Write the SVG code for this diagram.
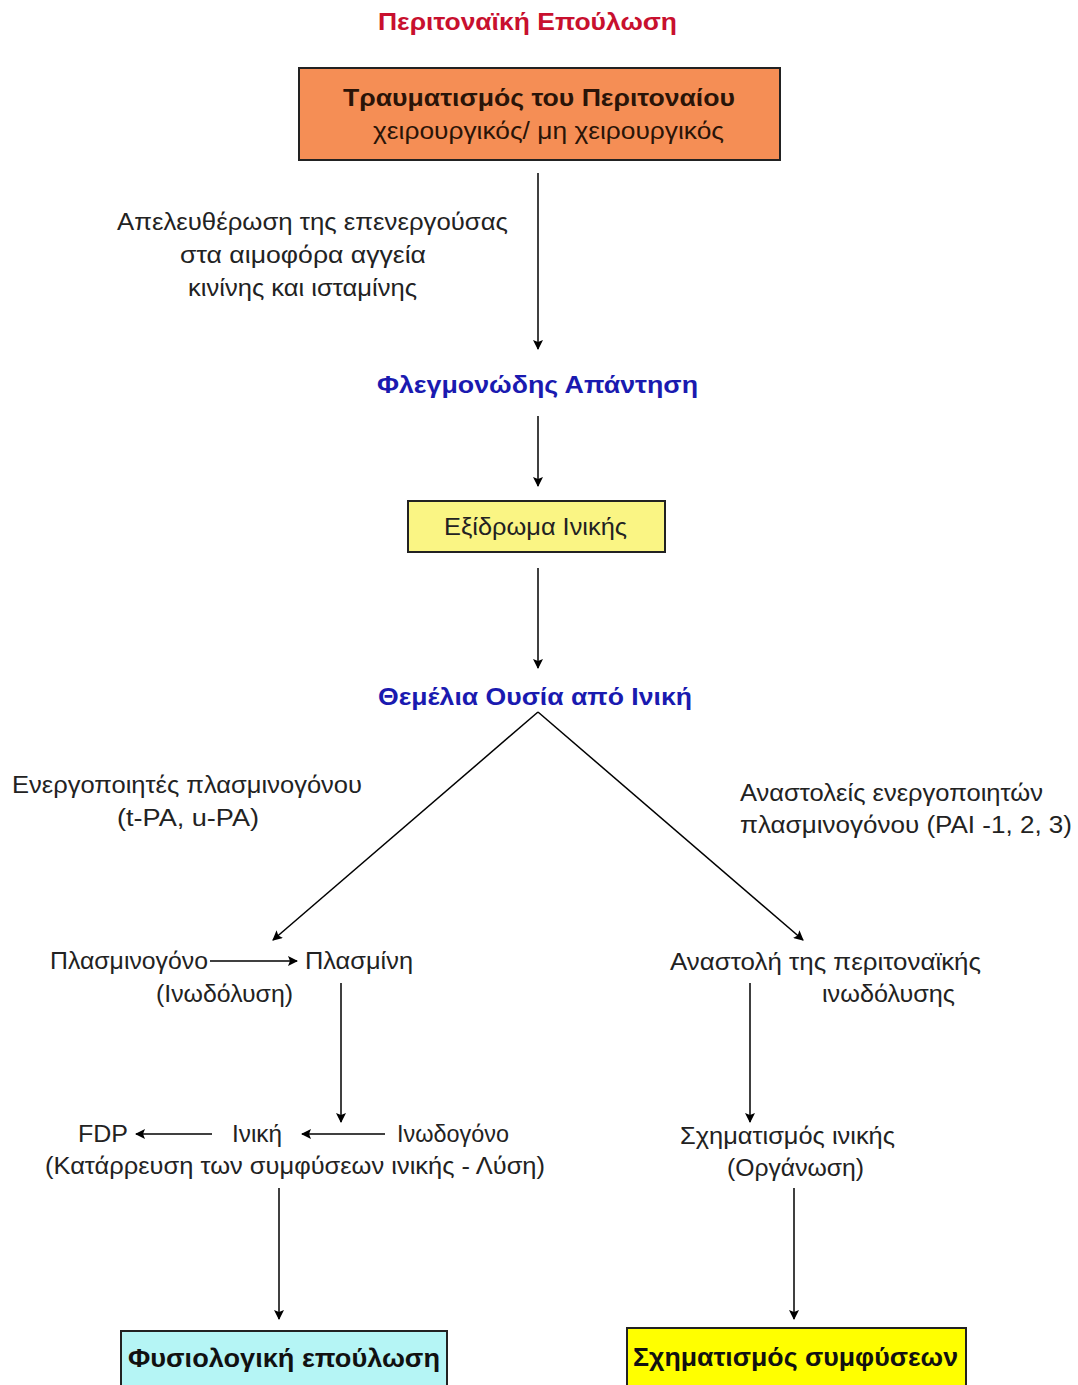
<svg xmlns="http://www.w3.org/2000/svg" width="1078" height="1385" viewBox="0 0 1078 1385">
<defs>
<marker id="ah" viewBox="0 0 10 10" refX="9" refY="5" markerWidth="10" markerHeight="10" markerUnits="userSpaceOnUse" orient="auto">
<path d="M0,0 L10,5 L0,10 L2,5 z" fill="#000"/>
</marker>
<style>
text{font-family:"Liberation Sans",Arial,sans-serif;fill:#222;}
.t{font-size:23px;}
.blue{fill:#1a1ab0;font-weight:bold;font-size:23px;}
.red{fill:#c8102e;font-weight:bold;font-size:23px;}
.b{font-weight:bold;}
.nb{font-weight:bold;font-size:26px;fill:#111;}
.ln{stroke:#000;stroke-width:1.5;fill:none;marker-end:url(#ah);}
.box{stroke:#222;stroke-width:2;}
</style>
</defs>
<rect width="1078" height="1385" fill="#fff"/>

<g id="title"><text class="red" x="378" y="30" textLength="299" lengthAdjust="spacingAndGlyphs">Περιτοναϊκή Επούλωση</text></g>

<g id="n-trauma">
<rect class="box" x="299" y="68" width="481" height="92" fill="#f58e55"/>
<text class="t b" x="343" y="106" style="fill:#2a1408" textLength="392" lengthAdjust="spacingAndGlyphs">Τραυματισμός του Περιτοναίου</text>
<text class="t" x="373" y="139" style="fill:#2a1408" textLength="351" lengthAdjust="spacingAndGlyphs">χειρουργικός/ μη χειρουργικός</text>
</g>

<g id="l-release">
<text class="t" x="117" y="230" textLength="391" lengthAdjust="spacingAndGlyphs">Απελευθέρωση της επενεργούσας</text>
<text class="t" x="180" y="263" textLength="246" lengthAdjust="spacingAndGlyphs">στα αιμοφόρα αγγεία</text>
<text class="t" x="188" y="296" textLength="229" lengthAdjust="spacingAndGlyphs">κινίνης και ισταμίνης</text>
</g>

<g id="n-inflam"><text class="blue" x="377" y="393" textLength="321" lengthAdjust="spacingAndGlyphs">Φλεγμονώδης Απάντηση</text></g>

<g id="n-exudate">
<rect class="box" x="408" y="501" width="257" height="51" fill="#faf584"/>
<text class="t" x="444" y="535" textLength="183" lengthAdjust="spacingAndGlyphs">Εξίδρωμα Ινικής</text>
</g>

<g id="n-matrix"><text class="blue" x="378" y="705" textLength="314" lengthAdjust="spacingAndGlyphs">Θεμέλια Ουσία από Ινική</text></g>

<g id="l-activators">
<text class="t" x="12" y="793" textLength="350" lengthAdjust="spacingAndGlyphs">Ενεργοποιητές πλασμινογόνου</text>
<text class="t" x="117" y="826" textLength="142" lengthAdjust="spacingAndGlyphs">(t-PA, u-PA)</text>
</g>
<g id="l-inhibitors">
<text class="t" x="740" y="801" textLength="303" lengthAdjust="spacingAndGlyphs">Αναστολείς ενεργοποιητών</text>
<text class="t" x="740" y="833" textLength="332" lengthAdjust="spacingAndGlyphs">πλασμινογόνου (PAI -1, 2, 3)</text>
</g>

<g id="n-plasminogen">
<text class="t" x="50" y="969" textLength="158" lengthAdjust="spacingAndGlyphs">Πλασμινογόνο</text>
<text class="t" x="156" y="1002" textLength="137" lengthAdjust="spacingAndGlyphs">(Ινωδόλυση)</text>
</g>
<g id="n-plasmin"><text class="t" x="305" y="969" textLength="108" lengthAdjust="spacingAndGlyphs">Πλασμίνη</text></g>

<g id="n-inhibition">
<text class="t" x="670" y="970" textLength="311" lengthAdjust="spacingAndGlyphs">Αναστολή της περιτοναϊκής</text>
<text class="t" x="822" y="1002" textLength="133" lengthAdjust="spacingAndGlyphs">ινωδόλυσης</text>
</g>

<g id="n-fdp"><text class="t" x="78" y="1142" textLength="50" lengthAdjust="spacingAndGlyphs">FDP</text></g>
<g id="n-fibrin"><text class="t" x="232" y="1142" textLength="50" lengthAdjust="spacingAndGlyphs">Ινική</text></g>
<g id="n-fibrinogen"><text class="t" x="397" y="1142" textLength="112" lengthAdjust="spacingAndGlyphs">Ινωδογόνο</text></g>
<g id="l-lysis"><text class="t" x="45" y="1174" textLength="500" lengthAdjust="spacingAndGlyphs">(Κατάρρευση των συμφύσεων ινικής - Λύση)</text></g>

<g id="n-fibrinform">
<text class="t" x="680" y="1144" textLength="215" lengthAdjust="spacingAndGlyphs">Σχηματισμός ινικής</text>
<text class="t" x="727" y="1176" textLength="137" lengthAdjust="spacingAndGlyphs">(Οργάνωση)</text>
</g>

<g id="n-normal">
<rect class="box" x="121" y="1331" width="326" height="60" fill="#b5f5f5"/>
<text class="nb" x="128" y="1367" textLength="312" lengthAdjust="spacingAndGlyphs">Φυσιολογική επούλωση</text>
</g>
<g id="n-adhesion">
<rect class="box" x="627" y="1328" width="339" height="63" fill="#ffff00"/>
<text class="nb" x="633" y="1366" textLength="325" lengthAdjust="spacingAndGlyphs">Σχηματισμός συμφύσεων</text>
</g>

<g id="connectors">
<line class="ln" x1="538" y1="173" x2="538" y2="349"/>
<line class="ln" x1="538" y1="416" x2="538" y2="486"/>
<line class="ln" x1="538" y1="568" x2="538" y2="668"/>
<line class="ln" x1="538" y1="712" x2="273" y2="940"/>
<line class="ln" x1="538" y1="712" x2="803" y2="940"/>
<line class="ln" x1="210" y1="961" x2="297" y2="961"/>
<line class="ln" x1="341" y1="983" x2="341" y2="1122"/>
<line class="ln" x1="750" y1="983" x2="750" y2="1122"/>
<line class="ln" x1="212" y1="1134" x2="136" y2="1134"/>
<line class="ln" x1="385" y1="1134" x2="302" y2="1134"/>
<line class="ln" x1="279" y1="1188" x2="279" y2="1319"/>
<line class="ln" x1="794" y1="1188" x2="794" y2="1319"/>
</g>
</svg>
